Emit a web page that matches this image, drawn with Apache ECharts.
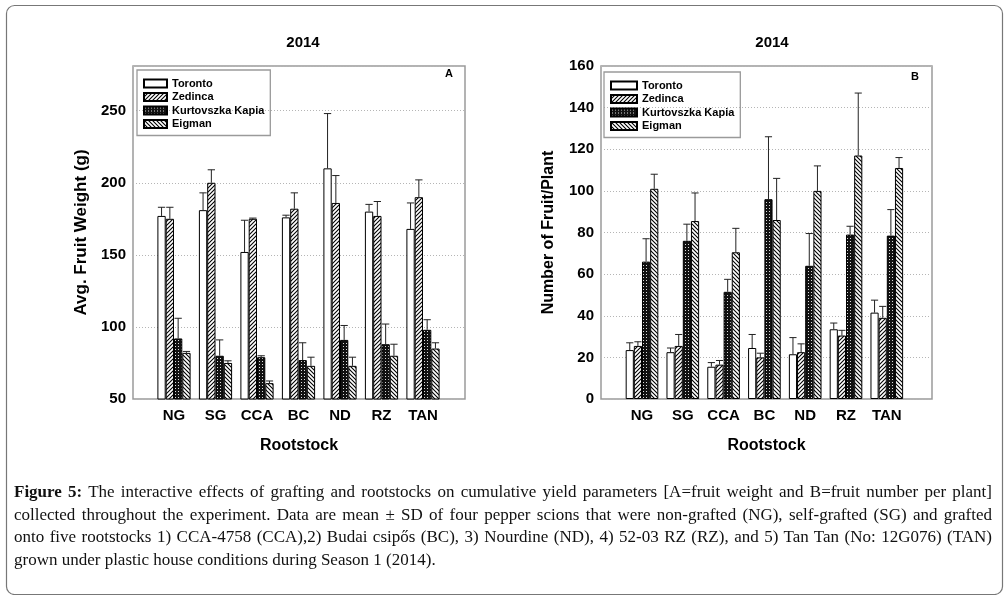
<!DOCTYPE html>
<html>
<head>
<meta charset="utf-8">
<script src="https://cdn.jsdelivr.net/npm/echarts@6/dist/echarts.min.js"></script>
<style>
html,body{margin:0;padding:0;background:#fff;}
#wrap{position:relative;width:1004px;height:595px;}
#chart{position:absolute;left:0;top:0;width:1004px;height:595px;}
#caption{position:absolute;left:14px;top:481px;width:978px;font-family:"Liberation Serif","DejaVu Serif",serif;font-size:17px;color:#111;}
#caption div{height:22.5px;line-height:22.5px;text-align:justify;text-align-last:justify;white-space:nowrap;}
#caption div.last{text-align-last:left;}
</style>
</head>
<body>
<div id="wrap">
<div id="chart"></div>
<div id="caption">
<div><b>Figure 5:</b> The interactive effects of grafting and rootstocks on cumulative yield parameters [A=fruit weight and B=fruit number per plant]</div>
<div>collected throughout the experiment. Data are mean ± SD of four pepper scions that were non-grafted (NG), self-grafted (SG) and grafted</div>
<div>onto five rootstocks 1) CCA-4758 (CCA),2) Budai csipős (BC), 3) Nourdine (ND), 4) 52-03 RZ (RZ), and 5) Tan Tan (No: 12G076) (TAN)</div>
<div class="last">grown under plastic house conditions during Season 1 (2014).</div>
</div>
</div>
<script>
// ---------------- data ----------------
const categories = ['NG', 'SG', 'CCA', 'BC', 'ND', 'RZ', 'TAN'];
const seriesNames = ['Toronto', 'Zedinca', 'Kurtovszka Kapia', 'Eigman'];

// Chart A: Avg. Fruit Weight (g)
const weightToronto = [177, 181, 152, 176, 210, 180, 168];
const weightZedinca = [175, 200, 175, 182, 186, 177, 190];
const weightKurtovszka = [92, 80, 79, 77, 91, 88, 98];
const weightEigman = [82, 75, 61, 73, 73, 80, 85];
const weightTorontoSD = [6, 12, 22, 1.5, 38, 5, 18];
const weightZedincaSD = [8, 9, 0.5, 11, 19, 10, 12];
const weightKurtovszkaSD = [14, 11, 1, 12, 10, 14, 7];
const weightEigmanSD = [1, 1.5, 1.5, 6, 6, 8, 4];

// Chart B: Number of Fruit/Plant
const numberToronto = [23.5, 22.5, 15.5, 24.5, 21.5, 33.5, 41.5];
const numberZedinca = [25.5, 25.5, 16.5, 20, 22.5, 30.5, 39];
const numberKurtovszka = [66, 76, 51.5, 96, 64, 79, 78.5];
const numberEigman = [101, 85.5, 70.5, 86, 100, 117, 111];
const numberTorontoSD = [3.5, 2, 2, 6.5, 8, 3, 6];
const numberZedincaSD = [2, 5.5, 2, 2, 4, 2.5, 5.5];
const numberKurtovszkaSD = [11, 8, 6, 30, 15.5, 4, 12.5];
const numberEigmanSD = [7, 13.5, 11.5, 20, 12, 30, 5];

const weightTicks = [50, 100, 150, 200, 250];
const numberTicks = [0, 20, 40, 60, 80, 100, 120, 140, 160];

// ---------------- patterns ----------------
function hatch(dir) {
  const c = document.createElement('canvas');
  c.width = 4; c.height = 4;
  const g = c.getContext('2d');
  g.fillStyle = '#fff'; g.fillRect(0, 0, 4, 4);
  g.strokeStyle = '#000'; g.lineWidth = 1.1;
  g.beginPath();
  if (dir > 0) {
    g.moveTo(-1, 5); g.lineTo(5, -1);
    g.moveTo(-1, 1); g.lineTo(1, -1);
    g.moveTo(3, 5); g.lineTo(5, 3);
  } else {
    g.moveTo(-1, -1); g.lineTo(5, 5);
    g.moveTo(3, -1); g.lineTo(5, 1);
    g.moveTo(-1, 3); g.lineTo(1, 5);
  }
  g.stroke();
  return c;
}
function checker() {
  const c = document.createElement('canvas');
  c.width = 3; c.height = 3;
  const g = c.getContext('2d');
  g.fillStyle = '#111'; g.fillRect(0, 0, 3, 3);
  g.fillStyle = '#ddd';
  g.fillRect(1, 1, 1, 1);
  return c;
}
const fills = [
  '#ffffff',
  { image: hatch(1), repeat: 'repeat' },
  { image: checker(), repeat: 'repeat' },
  { image: hatch(-1), repeat: 'repeat' }
];

// ---------------- layout helpers ----------------
const FONT = '"Liberation Sans", Arial, sans-serif';
const charts = [
  {
    frame: { left: 133, right: 1004 - 465, top: 66, bottom: 595 - 399 },
    bars: { left: 153.25, width: 41.5 * 7, top: 66, bottom: 595 - 399 },
    min: 50, max: 281, interval: 50,
    yName: 'Avg. Fruit Weight (g)', yGap: 43, yNameSize: 17,
    means: [weightToronto, weightZedinca, weightKurtovszka, weightEigman],
    sds: [weightTorontoSD, weightZedincaSD, weightKurtovszkaSD, weightEigmanSD],
    legend: { left: 137, top: 70, itemWidth: 23 },
    letter: 'A', letterPos: [450, 74], titleX: 298
  },
  {
    frame: { left: 601, right: 1004 - 932, top: 66, bottom: 595 - 399 },
    bars: { left: 621.6, width: 40.8 * 7, top: 66, bottom: 595 - 399 },
    min: 0, max: 160, interval: 20,
    yName: 'Number of Fruit/Plant', yGap: 44, yNameSize: 16,
    means: [numberToronto, numberZedinca, numberKurtovszka, numberEigman],
    sds: [numberTorontoSD, numberZedincaSD, numberKurtovszkaSD, numberEigmanSD],
    legend: { left: 604, top: 72, itemWidth: 26 },
    letter: 'B', letterPos: [916, 77], titleX: 767
  }
];

const grid = [], xAxis = [], yAxis = [], series = [], legend = [], graphic = [], title = [];

function errRender(params, api) {
  const i = api.value(0), m = api.value(1), u = api.value(2), s = api.value(3);
  const band = api.size([1, 0])[0];
  const bw = band * 0.8 / 4;
  const p0 = api.coord([i, m]);
  const p1 = api.coord([i, u]);
  const x = p0[0] + (s - 1.5) * bw;
  const st = { stroke: '#222', lineWidth: 1 };
  return {
    type: 'group',
    children: [
      { type: 'line', shape: { x1: x, y1: p0[1], x2: x, y2: p1[1] }, style: st },
      { type: 'line', shape: { x1: x - bw / 2 + 0.5, y1: p1[1], x2: x + bw / 2 - 0.5, y2: p1[1] }, style: st }
    ]
  };
}

charts.forEach((c, k) => {
  const gFrame = grid.length;
  grid.push(Object.assign({ show: true, borderColor: '#9a9a9a', borderWidth: 1.5, backgroundColor: 'transparent' }, c.frame));
  xAxis.push({
    gridIndex: gFrame, type: 'value', min: 0, max: 1,
    axisLine: { show: false }, axisTick: { show: false }, axisLabel: { show: false }, splitLine: { show: false },
    name: 'Rootstock', nameLocation: 'middle', nameGap: 39,
    nameTextStyle: { fontFamily: FONT, fontWeight: 'bold', fontSize: 16, color: '#000' }
  });
  yAxis.push({
    gridIndex: gFrame, type: 'value', min: c.min, max: c.max, interval: c.interval,
    axisLine: { show: false }, axisTick: { show: false },
    axisLabel: { showMaxLabel: c.max % c.interval === 0, margin: 7, fontFamily: FONT, fontWeight: 'bold', fontSize: 15, color: '#000' },
    splitLine: { show: true, lineStyle: { type: [1, 2], color: '#b5b5b5', width: 1 } },
    name: c.yName, nameLocation: 'middle', nameGap: c.yGap,
    nameTextStyle: { fontFamily: FONT, fontWeight: 'bold', fontSize: c.yNameSize, color: '#000' }
  });
  const gBars = grid.length;
  grid.push(Object.assign({ show: false }, c.bars));
  xAxis.push({
    gridIndex: gBars, type: 'category', data: categories,
    axisLine: { show: false }, axisTick: { show: false },
    axisLabel: { interval: 0, margin: 9, fontFamily: FONT, fontWeight: 'bold', fontSize: 15, color: '#000' }
  });
  yAxis.push({ gridIndex: gBars, type: 'value', min: c.min, max: c.max, show: false });

  const errData = [];
  seriesNames.forEach((name, s) => {
    series.push({
      type: 'bar', name: name, xAxisIndex: gBars, yAxisIndex: gBars,
      data: c.means[s], barGap: 0, barCategoryGap: '20%',
      itemStyle: { color: fills[s], borderColor: '#000', borderWidth: 1 },
      emphasis: { disabled: true }, animation: false
    });
    c.means[s].forEach((m, i) => errData.push([i, m, m + c.sds[s][i], s]));
  });
  series.push({
    type: 'custom', name: 'err' + k, xAxisIndex: gBars, yAxisIndex: gBars,
    renderItem: errRender, data: errData, encode: { x: 0, y: 2 }, z: 5, animation: false, silent: true
  });

  legend.push({
    data: seriesNames, orient: 'vertical', left: c.legend.left, top: c.legend.top,
    padding: [7, 6, 5, 6], itemGap: 0.5, itemWidth: c.legend.itemWidth, itemHeight: 8, icon: 'rect',
    borderColor: '#9a9a9a', borderWidth: 1.3, selectedMode: false,
    textStyle: { fontFamily: FONT, fontWeight: 'bold', fontSize: 11, color: '#000', lineHeight: 13 }
  });
  title.push({
    text: '2014', left: c.titleX, top: 38, textAlign: 'center', textVerticalAlign: 'middle',
    textStyle: { fontFamily: FONT, fontWeight: 'bold', fontSize: 15, color: '#000' }
  });
  graphic.push({
    type: 'text', left: c.letterPos[0] - 5, top: c.letterPos[1] - 6,
    style: { text: c.letter, font: 'bold 11px ' + FONT, fill: '#000' }
  });
});

graphic.push({
  type: 'rect', left: 4, top: 3, z: -1,
  shape: { width: 996, height: 589, r: 8 },
  style: { fill: 'none', stroke: '#777', lineWidth: 1.2 }
});

const chart = echarts.init(document.getElementById('chart'), null, { renderer: 'canvas' });
chart.setOption({
  animation: false,
  title: title, grid: grid, xAxis: xAxis, yAxis: yAxis, series: series, legend: legend, graphic: graphic
});
</script>
</body>
</html>
